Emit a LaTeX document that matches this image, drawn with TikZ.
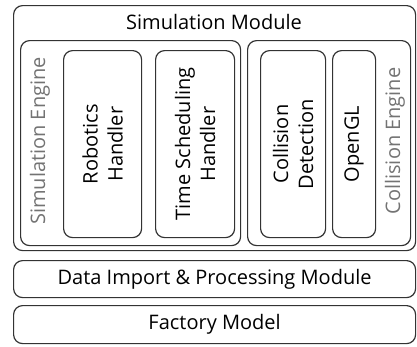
\documentclass[tikz,border=0pt]{standalone}
\usepackage{fontspec}
\setmainfont{Open Sans}
\begin{document}
\begin{tikzpicture}[x=1pt,y=-1pt,
  box/.style={draw=black!80, line width=1.2pt, rounded corners=9pt},
  lbl/.style={font=\fontsize{20}{25}\selectfont, text=black, align=center, inner sep=0pt},
  glbl/.style={font=\fontsize{20}{25}\selectfont, text=black!55, inner sep=0pt},
  vert/.style={rotate=90}]
\useasboundingbox (0,0) rectangle (417,346);
% outer boxes
\node[box, minimum width=402pt, minimum height=245pt, anchor=north west] (sim) at (13,5) {};
\node[box, minimum width=220pt, minimum height=205pt, anchor=north west] (se) at (20,40) {};
\node[box, minimum width=163pt, minimum height=205pt, anchor=north west] (ce) at (247,40) {};
\node[box, minimum width=78pt, minimum height=187pt, anchor=north west] (rh) at (63,50) {};
\node[box, minimum width=79pt, minimum height=187pt, anchor=north west] (ts) at (155,50) {};
\node[box, minimum width=65pt, minimum height=187pt, anchor=north west] (cd) at (260,50) {};
\node[box, minimum width=43pt, minimum height=187pt, anchor=north west] (gl) at (332,50) {};
\node[box, minimum width=402pt, minimum height=37pt, anchor=north west] (di) at (13,260) {};
\node[box, minimum width=402pt, minimum height=38pt, anchor=north west] (fm) at (13,305) {};
% labels
\node[lbl] (simt) at (214,22) {Simulation Module};
\node[glbl, vert] (set) at (40,141) {Simulation Engine};
\node[lbl, vert] (rht) at (rh.center) {Robotics\\Handler};
\node[lbl, vert] (tst) at (ts.center) {Time Scheduling\\Handler};
\node[lbl, vert] (cdt) at (cd.center) {Collision\\Detection};
\node[lbl, vert] (glt) at (gl.center) {OpenGL};
\node[glbl, vert] (cet) at (395,141) {Collision Engine};
\node[lbl] (dit) at (di.center) {Data Import \& Processing Module};
\node[lbl] (fmt) at (fm.center) {Factory Model};
\end{tikzpicture}
\end{document}
